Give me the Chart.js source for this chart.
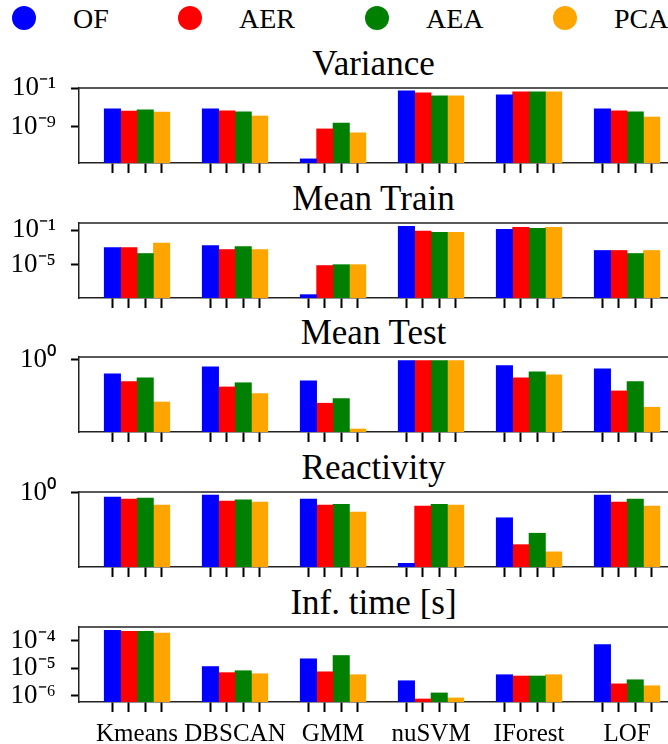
<!DOCTYPE html>
<html>
<head>
<meta charset="utf-8">
<script src="https://cdn.jsdelivr.net/npm/chart.js@4.4.0/dist/chart.umd.min.js"></script>
<style>
  body { margin: 0; background: #fff; width: 668px; height: 744px; overflow: hidden; position: relative;
         font-family: "Liberation Serif", serif; color: #000; }
  .panel { position: absolute; left: 0; width: 668px; }
  .title { position: absolute; left: 79px; width: 589px; text-align: center; font-size: 35px; line-height: 35px; }
  .dot { position: absolute; top: 6px; width: 24px; height: 24px; border-radius: 50%; }
  .lab { position: absolute; top: 5px; font-size: 28px; line-height: 28px; }
</style>
</head>
<body>
<div id="legend"></div>
<script>
// ---- data -------------------------------------------------
const methods = ['Kmeans', 'DBSCAN', 'GMM', 'nuSVM', 'IForest', 'LOF'];
const seriesNames = ['OF', 'AER', 'AEA', 'PCA'];
const seriesColors = ['#0000ff', '#ff0000', '#008000', '#ffa500'];

// each row is one series (OF, AER, AEA, PCA), columns follow methods
const variance = [
  [5.0e-6, 5.0e-6, 2.8e-16, 2.5e-2, 4.0e-3, 5.0e-6],
  [1.9e-6, 2.0e-6, 4.0e-10, 1.0e-2, 1.6e-2, 2.0e-6],
  [3.2e-6, 1.3e-6, 6.3e-9,  2.5e-3, 1.6e-2, 1.3e-6],
  [1.2e-6, 1.8e-7, 6.3e-11, 2.5e-3, 1.6e-2, 1.1e-7],
];
const meanTrain = [
  [1.0e-3, 1.7e-3, 3.2e-9, 0.30,  0.13, 4.5e-4],
  [1.0e-3, 5.8e-4, 7.9e-6, 0.08,  0.22, 4.5e-4],
  [2.0e-4, 1.3e-3, 1.0e-5, 0.058, 0.17, 2.0e-4],
  [3.2e-3, 5.8e-4, 1.0e-5, 0.058, 0.22, 4.5e-4],
];
const meanTest = [
  [0.64, 0.80, 0.51, 0.97, 0.83, 0.75],
  [0.50, 0.42, 0.25, 0.97, 0.56, 0.37],
  [0.56, 0.48, 0.29, 0.97, 0.68, 0.50],
  [0.26, 0.34, 0.11, 0.97, 0.62, 0.22],
];
const reactivity = [
  [0.875, 0.93, 0.82, 0.112, 0.46,  0.93],
  [0.82,  0.77, 0.68, 0.66,  0.20,  0.75],
  [0.85,  0.80, 0.70, 0.70,  0.285, 0.82],
  [0.68,  0.75, 0.55, 0.68,  0.16,  0.66],
];
const infTime = [
  [2.4e-4, 1.15e-5, 2.2e-5, 3.5e-6,  5.8e-6, 7.2e-5],
  [2.2e-4, 6.9e-6,  7.4e-6, 7.6e-7,  5.2e-6, 2.7e-6],
  [2.2e-4, 8.1e-6,  2.9e-5, 1.26e-6, 5.2e-6, 3.8e-6],
  [1.9e-4, 6.3e-6,  5.8e-6, 8.3e-7,  5.8e-6, 2.3e-6],
];

const panelTitles = ['Variance', 'Mean Train', 'Mean Test', 'Reactivity', 'Inf. time [s]'];
const panelData = [variance, meanTrain, meanTest, reactivity, infTime];
const yTicks = [[1e-1, 1e-9], [1e-1, 1e-5], [1], [1], [1e-4, 1e-5, 1e-6]];
const yMin = [4e-17, 1.3e-9, 0.1, 0.1, 5.9e-7];
const yMax = [0.1, 0.72, 1.09, 1.023, 3.16e-4];

// ---- layout -----------------------------------------------
const FONT = '"Liberation Serif", serif';
const panelTop = [88, 223, 357, 492, 627];
const plotH = 75;
const padTop = 16;
const xMin = -0.592, xMax = 5.418;
const barPx = 16.4;
const barUnit = barPx / 98;

Chart.defaults.font.family = FONT;
Chart.defaults.color = '#000';

// legend
const legendX = [24, 190, 377, 565];
const legend = document.getElementById('legend');
seriesNames.forEach((name, i) => {
  const dot = document.createElement('div');
  dot.className = 'dot';
  dot.style.left = (legendX[i] - 12) + 'px';
  dot.style.background = seriesColors[i];
  legend.appendChild(dot);
  const lab = document.createElement('div');
  lab.className = 'lab';
  lab.style.left = (legendX[i] + 49) + 'px';
  lab.textContent = name;
  legend.appendChild(lab);
});

const SUP = { '-': '\u207B', '0': '\u2070', '1': '\u00B9', '2': '\u00B2', '3': '\u00B3', '4': '\u2074',
              '5': '\u2075', '6': '\u2076', '7': '\u2077', '8': '\u2078', '9': '\u2079' };
function powLabel(v) {
  const e = String(Math.round(Math.log10(v)));
  return '10' + e.split('').map(c => SUP[c]).join('');
}

// x ticks: one per bar, plus an invisible one at each group centre for the name
const xTickList = [];
methods.forEach((m, i) => {
  for (let k = 0; k < 4; k++) {
    if (k === 2) xTickList.push({ value: i, center: true });
    xTickList.push({ value: i + (k - 1.5) * barUnit });
  }
});

const topSpine = {
  id: 'topSpine',
  afterDraw(chart) {
    const { ctx, chartArea: a } = chart;
    ctx.save();
    ctx.strokeStyle = '#222';
    ctx.lineWidth = 1.5;
    ctx.beginPath();
    ctx.moveTo(a.left, a.top);
    ctx.lineTo(a.right, a.top);
    ctx.stroke();
    ctx.restore();
  }
};

function makePanel(p) {
  const last = p === panelTitles.length - 1;
  const xH = last ? 46 : 14;

  const title = document.createElement('div');
  title.className = 'title';
  title.style.top = (panelTop[p] - 42) + 'px';
  title.textContent = panelTitles[p];
  document.body.appendChild(title);

  const wrap = document.createElement('div');
  wrap.className = 'panel';
  wrap.style.top = (panelTop[p] - padTop) + 'px';
  wrap.style.height = (padTop + plotH + xH) + 'px';
  const canvas = document.createElement('canvas');
  wrap.appendChild(canvas);
  document.body.appendChild(wrap);

  new Chart(canvas, {
    type: 'bar',
    data: {
      datasets: seriesNames.map((name, s) => ({
        label: name,
        data: methods.map((m, i) => ({ x: i, y: panelData[p][s][i] })),
        backgroundColor: seriesColors[s],
        borderWidth: 0,
        barThickness: barPx,
      })),
    },
    options: {
      responsive: true, maintainAspectRatio: false, animation: false,
      layout: { padding: { top: padTop, left: 0, right: 0, bottom: 0 } },
      plugins: { legend: { display: false }, tooltip: { enabled: false } },
      scales: {
        x: {
          type: 'linear', min: xMin, max: xMax, offset: false,
          afterBuildTicks: s => { s.ticks = xTickList.map(t => ({ ...t })); },
          afterFit: s => { s.height = xH; s.paddingLeft = 0; s.paddingRight = 0; },
          ticks: {
            autoSkip: false, maxRotation: 0, minRotation: 0, padding: 7,
            font: { size: 25 }, color: '#000',
            callback: (v, i, ticks) => (last && ticks[i].center) ? methods[Math.round(v)] : '',
          },
          grid: {
            offset: false, drawOnChartArea: false, drawTicks: true, tickLength: 10, tickWidth: 2,
            tickColor: c => (c.tick && c.tick.center) ? 'rgba(0,0,0,0)' : '#000',
          },
          border: { display: true, color: '#222', width: 1.5 },
        },
        y: {
          type: 'logarithmic', min: yMin[p], max: yMax[p],
          afterBuildTicks: s => { s.ticks = yTicks[p].map(v => ({ value: v })); },
          afterFit: s => { s.width = 79; s.paddingTop = 0; s.paddingBottom = 0; },
          ticks: { autoSkip: false, padding: 15, font: { size: 27 }, color: '#000', callback: v => powLabel(v) },
          grid: { drawOnChartArea: false, drawTicks: true, tickLength: 8, tickWidth: 2, tickColor: '#000' },
          border: { display: true, color: '#222', width: 1.5 },
        },
      },
    },
    plugins: [topSpine],
  });
}

panelTitles.forEach((t, p) => makePanel(p));
</script>
</body>
</html>
